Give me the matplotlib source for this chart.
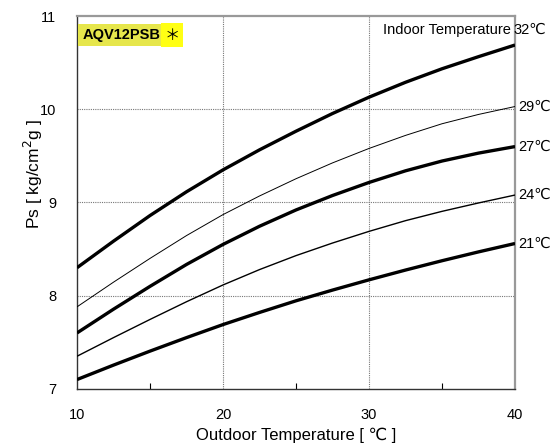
import matplotlib
matplotlib.use("Agg")
import matplotlib.pyplot as plt

plt.rcParams["font.family"] = ["Liberation Sans", "DejaVu Sans"]

# outdoor temperature [C]
outdoor = [10, 12.5, 15, 17.5, 20, 22.5, 25, 27.5, 30, 32.5, 35, 37.5, 40]
# suction pressure Ps [kg/cm2g] per indoor temperature
indoor_labels = ["32℃", "29℃", "27℃", "24℃", "21℃"]
ps_32 = [8.30, 8.585, 8.86, 9.115, 9.35, 9.565, 9.765, 9.955, 10.13, 10.29, 10.435, 10.565, 10.69]
ps_29 = [7.88, 8.145, 8.40, 8.645, 8.87, 9.07, 9.255, 9.425, 9.58, 9.72, 9.845, 9.945, 10.03]
ps_27 = [7.60, 7.855, 8.10, 8.335, 8.55, 8.745, 8.92, 9.075, 9.215, 9.34, 9.445, 9.53, 9.60]
ps_24 = [7.35, 7.55, 7.745, 7.935, 8.115, 8.28, 8.43, 8.565, 8.69, 8.805, 8.905, 8.995, 9.08]
ps_21 = [7.10, 7.255, 7.405, 7.55, 7.69, 7.82, 7.945, 8.06, 8.17, 8.275, 8.375, 8.47, 8.56]
x_ticks = [10, 20, 30, 40]
y_ticks = [7, 8, 9, 10, 11]
model = "AQV12PSB"

fig = plt.figure(figsize=(5.52, 4.48), dpi=100)
ax = fig.add_axes([0.1395, 0.132, 0.7935, 0.832])

series = [ps_32, ps_29, ps_27, ps_24, ps_21]
widths = [2.4, 0.7, 2.4, 1.0, 2.4]
for ys, lw in zip(series, widths):
    ax.plot(outdoor, ys, color="black", lw=lw, solid_capstyle="butt",
            solid_joinstyle="round", zorder=3)

ax.set_xlim(10, 40)
ax.set_ylim(7, 11)
ax.set_xticks(x_ticks)
ax.set_yticks(y_ticks)
ax.set_xticks([15, 25, 35], minor=True)
ax.tick_params(axis="x", which="major", length=0, pad=14, labelsize=10.5)
ax.tick_params(axis="x", which="minor", direction="in", length=4, width=0.8)
ax.tick_params(axis="y", length=0, pad=15, labelsize=10.5)

# dotted grid at the inner values only
for gx in (20, 30):
    ax.axvline(gx, color="#777777", lw=0.8, ls=(0, (1, 1)), zorder=1)
for gy in (8, 9, 10):
    ax.axhline(gy, color="#777777", lw=0.8, ls=(0, (1, 1)), zorder=1)

for side in ("left", "bottom"):
    ax.spines[side].set_color("#333333")
    ax.spines[side].set_linewidth(1.0)
for side in ("top", "right"):
    ax.spines[side].set_color("#999999")
    ax.spines[side].set_linewidth(1.6)

ax.set_xlabel("Outdoor Temperature [ ℃ ]", fontsize=12, labelpad=4)
ax.set_ylabel("Ps [ kg/cm$^2$g ]", fontsize=12.5)
ax.yaxis.set_label_coords(-0.072, 0.575)

# model badge
badge = ax.text(0.012, 0.968, model, transform=ax.transAxes, ha="left",
                va="top", fontsize=10.5, fontweight="bold",
                bbox=dict(boxstyle="square,pad=0.3", fc="#e6e64c", ec="none"))
ax.annotate("＊", xy=(1, 0.5), xycoords=badge, xytext=(3, 0),
            textcoords="offset points", ha="left", va="center", fontsize=11,
            family=["Noto Sans CJK KR", "DejaVu Sans"],
            bbox=dict(boxstyle="square,pad=0.2", fc="#ffff14", ec="none"))

ax.text(39.7, 10.85, "Indoor Temperature", ha="right", va="center",
        fontsize=10.5)
for ys, lab in zip(series, indoor_labels):
    if lab == "32℃":
        ax.text(39.9, 10.85, lab, ha="left", va="center", fontsize=10.5,
                clip_on=False)
    else:
        ax.text(40.25, ys[-1], lab, ha="left", va="center", fontsize=10.5,
                clip_on=False)

fig.savefig("out.png", dpi=100)
